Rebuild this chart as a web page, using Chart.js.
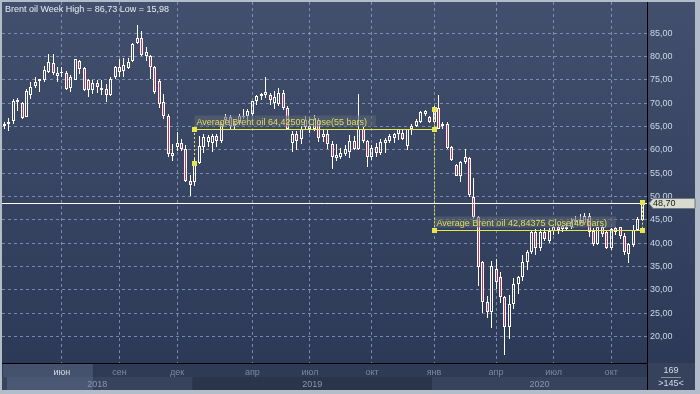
<!DOCTYPE html>
<html>
<head>
<meta charset="utf-8">
<title>Brent oil Week</title>
<script src="https://cdn.jsdelivr.net/npm/chart.js@4.4.1/dist/chart.umd.min.js"></script>
<style>
  html, body { margin: 0; padding: 0; background: #b3bcc9; }
  canvas { display: block; }
</style>
</head>
<body>
<script>
// Brent oil, weekly bars (oldest first)
const opens = [
  65.2, 65.5, 66.3, 70.2, 70.0, 67.1, 71.8, 73.8, 74.8, 74.9,
  76.8, 78.6, 75.8, 76.4, 76.4, 73.2, 75.1, 79.0, 77.5, 74.9,
  72.9, 74.3, 72.9, 73.1, 71.8, 75.6, 77.7, 77.0, 77.5, 79.1,
  82.9, 84.1, 80.1, 80.1, 77.7, 74.8, 70.3, 67.2, 58.8, 60.6,
  61.4, 60.3, 53.4, 53.2, 57.2, 60.6, 61.8, 61.5, 63.1, 62.0,
  66.4, 67.1, 65.1, 65.7, 67.2, 67.3, 67.7, 70.6, 71.6, 71.8,
  71.8, 70.1, 69.9, 72.3, 69.1, 61.6, 63.4, 62.3, 64.9, 65.2,
  64.5, 66.5, 62.7, 63.4, 61.3, 58.2, 58.6, 59.2, 59.6, 62.0,
  60.3, 64.6, 62.0, 58.5, 60.7, 59.4, 61.6, 62.0, 62.5, 63.5,
  63.6, 60.8, 64.5, 65.2, 66.0, 67.7, 67.0, 66.0, 68.9, 65.2,
  65.6, 60.7, 56.8, 54.5, 57.5, 58.2, 49.9, 45.6, 35.9, 27.5,
  25.2, 34.6, 32.7, 28.4, 22.0, 27.0, 31.3, 32.7, 35.9, 38.2,
  42.4, 39.1, 42.4, 40.6, 42.7, 43.4, 43.1, 43.1, 43.6, 44.5,
  45.0, 44.4, 45.9, 42.7, 39.9, 43.4, 42.4, 39.1, 43.2, 43.4,
  41.6, 37.8, 39.6, 42.9, 45.0
];
const highs = [
  65.9, 66.8, 70.9, 71.1, 70.2, 73.1, 74.5, 75.6, 75.3, 78.1,
  80.6, 80.6, 77.7, 77.7, 77.0, 76.1, 79.6, 79.3, 77.7, 75.3,
  74.9, 75.1, 74.9, 74.1, 75.6, 78.1, 79.5, 79.8, 79.8, 82.9,
  86.73, 85.4, 82.0, 80.3, 78.1, 75.2, 72.0, 67.7, 61.3, 63.8,
  62.3, 61.1, 54.6, 58.2, 63.1, 63.4, 63.2, 63.4, 63.4, 65.9,
  67.7, 67.6, 66.3, 67.7, 68.7, 68.8, 70.6, 71.8, 72.3, 75.6,
  72.3, 72.6, 73.3, 72.8, 69.4, 64.0, 64.0, 65.2, 67.2, 67.0,
  67.6, 66.9, 64.2, 64.5, 62.0, 61.3, 60.5, 61.0, 63.2, 63.0,
  72.0, 65.0, 62.2, 61.0, 61.4, 62.3, 62.5, 63.5, 63.7, 64.6,
  64.2, 64.6, 65.6, 66.6, 68.4, 68.5, 67.3, 69.5, 71.8, 65.9,
  66.1, 60.9, 57.0, 57.7, 60.2, 58.4, 53.9, 45.9, 36.3, 28.8,
  36.3, 36.6, 33.8, 28.8, 28.9, 32.5, 33.1, 37.4, 38.5, 42.7,
  43.1, 43.0, 43.3, 43.3, 44.0, 44.1, 44.0, 44.3, 45.5, 45.9,
  46.2, 46.4, 46.6, 43.2, 43.6, 43.7, 42.6, 43.2, 43.6, 43.5,
  42.3, 40.0, 44.0, 45.6, 48.9
];
const lows = [
  64.4, 64.1, 65.6, 68.4, 66.6, 67.0, 70.9, 73.3, 72.4, 74.5,
  76.4, 76.1, 74.5, 75.6, 72.9, 72.5, 74.9, 76.3, 72.7, 71.3,
  72.0, 72.2, 71.8, 70.3, 71.5, 75.3, 75.6, 75.6, 77.3, 78.9,
  82.7, 80.1, 79.1, 75.2, 72.0, 69.1, 66.6, 58.6, 57.7, 59.8,
  59.8, 53.1, 50.2, 52.3, 57.0, 59.3, 60.6, 59.5, 60.6, 61.6,
  65.6, 64.5, 64.6, 65.6, 66.6, 66.5, 67.3, 69.6, 70.7, 71.2,
  69.6, 68.7, 69.5, 68.6, 64.2, 59.5, 59.9, 61.3, 64.3, 63.6,
  64.0, 61.7, 61.8, 60.2, 55.9, 57.7, 58.0, 58.7, 58.2, 60.0,
  60.0, 61.5, 56.3, 57.9, 58.6, 58.9, 59.3, 61.4, 61.5, 62.2,
  62.1, 60.1, 63.2, 64.9, 65.8, 67.2, 65.8, 65.7, 64.5, 64.5,
  60.2, 57.7, 54.4, 53.2, 57.0, 49.9, 45.2, 30.9, 25.1, 24.1,
  21.8, 30.2, 27.3, 15.98, 19.4, 25.9, 29.1, 32.0, 34.2, 37.7,
  37.4, 38.4, 40.4, 40.0, 41.8, 42.0, 42.5, 42.6, 43.0, 44.0,
  44.2, 44.0, 41.3, 39.5, 39.6, 41.4, 38.8, 38.6, 41.7, 41.0,
  37.4, 35.8, 39.2, 42.6, 44.8
];
const closes = [
  65.6, 66.1, 70.6, 70.7, 66.8, 72.7, 73.6, 74.6, 75.2, 77.1,
  78.9, 76.5, 76.6, 76.8, 73.1, 75.6, 79.5, 77.3, 72.9, 72.9,
  74.3, 73.4, 73.3, 71.8, 75.3, 77.7, 76.8, 78.2, 78.9, 82.7,
  83.9, 80.3, 81.1, 77.7, 72.5, 69.8, 67.2, 59.1, 59.3, 61.4,
  60.3, 53.4, 52.6, 57.2, 60.9, 62.7, 62.7, 63.1, 62.0, 65.6,
  67.1, 65.1, 65.7, 67.2, 67.0, 68.4, 70.4, 71.6, 72.1, 72.4,
  70.8, 71.3, 72.3, 69.1, 64.5, 63.4, 62.0, 64.6, 66.5, 64.5,
  66.7, 62.6, 63.4, 61.3, 58.4, 58.9, 59.4, 60.2, 62.0, 60.2,
  64.6, 62.0, 58.5, 60.5, 59.4, 61.8, 62.2, 62.9, 63.5, 64.4,
  62.4, 64.4, 65.2, 66.2, 68.2, 68.3, 66.0, 68.7, 64.6, 65.6,
  60.4, 57.9, 54.5, 57.5, 58.4, 50.4, 45.6, 34.9, 27.5, 25.2,
  35.2, 31.8, 28.4, 22.0, 27.0, 31.3, 32.7, 35.9, 38.2, 42.4,
  38.9, 42.4, 40.9, 42.7, 43.4, 42.9, 43.8, 43.6, 44.5, 45.0,
  44.4, 45.8, 42.4, 39.9, 43.4, 42.0, 39.1, 43.1, 42.4, 41.6,
  38.1, 39.8, 42.8, 45.3, 48.7
];

// axis ticks (bar index for the time axis)
const monthTicks = [13, 26, 39, 56, 69, 83, 97, 111, 124, 137];
const monthLabels = ['июн', 'сен', 'дек', 'апр', 'июл', 'окт', 'янв', 'апр', 'июл', 'окт'];
const yearTicks = [21, 69.5, 120.8];
const yearLabels = ['2018', '2019', '2020'];
const yearStarts = [42.5, 96.5];
const priceTicks = [20, 25, 30, 35, 40, 45, 50, 55, 60, 65, 70, 75, 80, 85];

// "Average" tools drawn on the chart
const avgFrom = [43, 97];
const avgTo = [97, 144];
const avgValues = [64.42509, 42.84375];
const avgBars = [55, 48];

const titleText = 'Brent oil Week High = 86,73 Low = 15,98';
const barsTotal = '169';
const barsShown = '>145<';

const FONT = '"Liberation Sans", Arial, sans-serif';
const YELLOW = '#e6e64e';
const RED = '#c8325a';
const GRID = 'rgba(150, 166, 200, 0.72)';

function range(length) {
  return Array.apply(null, Array(length)).map(function(value, index) {
    return index;
  });
}

function fmt(v, digits) {
  return v.toFixed(digits).replace('.', ',');
}

const bars = range(closes.length);
const bodies = bars.map(i => ({ x: i, y: [Math.min(opens[i], closes[i]), Math.max(opens[i], closes[i])] }));
const upperWicks = bars.map(i => ({ x: i, y: [Math.max(opens[i], closes[i]), highs[i]] }));
const lowerWicks = bars.map(i => ({ x: i, y: [lows[i], Math.min(opens[i], closes[i])] }));

// keep the thin candle bars on whole pixels so they stay crisp
const snap = {
  id: 'snap',
  afterDatasetsUpdate: (chart) => {
    chart.getSortedVisibleDatasetMetas().forEach(function(meta) {
      meta.data.forEach(function(el) {
        el.x = Math.round(el.x - 0.5) + 0.5;
        el.y = Math.round(el.y);
        el.base = Math.round(el.base);
      });
    });
  }
};

const panels = {
  id: 'panels',
  beforeDraw: (chart) => {
    const ctx = chart.ctx;
    const area = chart.chartArea;
    const xs = chart.scales.x;
    const W = chart.width;
    ctx.save();
    ctx.fillStyle = '#b3bcc9';
    ctx.fillRect(0, 0, W, chart.height);

    // plot + price scale background
    const grad = ctx.createLinearGradient(0, area.top, 0, area.bottom);
    grad.addColorStop(0, '#43506d');
    grad.addColorStop(1, '#2c3957');
    ctx.fillStyle = grad;
    ctx.fillRect(2, 2, W - 7, area.bottom - 2);

    // time scale rows
    const rowTop = area.bottom;
    const rowMid = rowTop + 14;
    const rowBottom = rowMid + 13;
    ctx.fillStyle = '#2f3b55';
    ctx.fillRect(2, rowTop, W - 7, rowBottom - rowTop);
    const thumb = xs.getPixelForValue(20);
    ctx.fillStyle = '#45526e';
    ctx.fillRect(3, rowTop, thumb - 3, 14);

    const b1 = xs.getPixelForValue(yearStarts[0]);
    const b2 = xs.getPixelForValue(yearStarts[1]);
    ctx.fillStyle = '#37435d';
    ctx.fillRect(2, rowMid, b1 - 2, 13);
    ctx.fillRect(b2, rowMid, area.right - b2, 13);
    ctx.fillStyle = '#2a344b';
    ctx.fillRect(b1, rowMid, b2 - b1, 13);
    ctx.fillStyle = '#4b5874';
    ctx.fillRect(7, rowMid, thumb - 7, 13);

    // corner box
    ctx.fillStyle = '#36425c';
    ctx.fillRect(area.right, rowTop, W - 5 - area.right, rowBottom - rowTop);
    ctx.fillStyle = '#000';
    ctx.fillRect(area.right, rowTop, 1, rowBottom - rowTop);
    ctx.restore();
  }
};

const overlay = {
  id: 'overlay',
  afterDatasetsDraw: (chart) => {
    const ctx = chart.ctx;
    const area = chart.chartArea;
    const xs = chart.scales.x;
    const ys = chart.scales.y;
    ctx.save();

    // last close line
    const last = closes[closes.length - 1];
    const py = Math.round(ys.getPixelForValue(last)) + 0.5;
    ctx.strokeStyle = '#ffffff';
    ctx.lineWidth = 1;
    ctx.beginPath();
    ctx.moveTo(area.left, py);
    ctx.lineTo(area.right, py);
    ctx.stroke();

    ctx.font = '9px ' + FONT;
    for (let k = 0; k < avgValues.length; k++) {
      const x1 = Math.round(xs.getPixelForValue(avgFrom[k]) - 0.5) + 0.5;
      const x2 = Math.round(xs.getPixelForValue(avgTo[k]) - 0.5) + 0.5;
      const y = Math.round(ys.getPixelForValue(avgValues[k])) + 0.5;
      const y1 = ys.getPixelForValue(closes[avgFrom[k]]);
      const y2 = ys.getPixelForValue(closes[avgTo[k]]);
      const text = 'Average Brent oil ' + fmt(avgValues[k], 5) + ' Close(' + avgBars[k] + ' bars)';

      const w = ctx.measureText(text).width;
      ctx.fillStyle = 'rgba(92, 100, 114, 0.6)';
      ctx.fillRect(x1, y - 14, w + 11, 11);
      ctx.fillStyle = '#dede5c';
      ctx.textBaseline = 'alphabetic';
      ctx.textAlign = 'left';
      ctx.fillText(text, x1 + 2, y - 5);

      ctx.strokeStyle = YELLOW;
      ctx.setLineDash([]);
      ctx.beginPath();
      ctx.moveTo(x1, y);
      ctx.lineTo(x2, y);
      ctx.stroke();
      ctx.setLineDash([2, 2]);
      ctx.beginPath();
      ctx.moveTo(x1, y1);
      ctx.lineTo(x1, y);
      ctx.moveTo(x2, y2);
      ctx.lineTo(x2, y);
      ctx.stroke();
      ctx.setLineDash([]);

      ctx.fillStyle = YELLOW;
      [[x1, y1], [x1, y], [x2, y], [x2, y2]].forEach(function(p) {
        ctx.fillRect(Math.round(p[0] - 2.5), Math.round(p[1] - 2.5), 5, 5);
      });
    }

    // title
    ctx.fillStyle = '#e8ecf2';
    ctx.font = '9px ' + FONT;
    ctx.textBaseline = 'middle';
    ctx.fillText(titleText, 5, 10);
    ctx.restore();
  },
  afterDraw: (chart) => {
    const ctx = chart.ctx;
    const area = chart.chartArea;
    const ys = chart.scales.y;
    const last = closes[closes.length - 1];
    const y = Math.round(ys.getPixelForValue(last)) + 0.5;
    ctx.save();
    // price tag
    ctx.fillStyle = '#d8dbcd';
    ctx.strokeStyle = '#707880';
    ctx.beginPath();
    ctx.moveTo(area.right + 2, y);
    ctx.lineTo(area.right + 6, y - 5);
    ctx.lineTo(chart.width - 5, y - 5);
    ctx.lineTo(chart.width - 5, y + 5);
    ctx.lineTo(area.right + 6, y + 5);
    ctx.closePath();
    ctx.fill();
    ctx.stroke();
    ctx.fillStyle = '#15181c';
    ctx.font = '9px ' + FONT;
    ctx.textBaseline = 'middle';
    ctx.fillText(fmt(last, 2), area.right + 6, y + 0.5);

    // bars counter in the corner
    const cx = (area.right + chart.width - 5) / 2;
    ctx.textAlign = 'center';
    ctx.fillStyle = '#d4dbe6';
    ctx.fillText(barsTotal, cx, area.bottom + 8);
    ctx.fillText(barsShown, cx, area.bottom + 21);
    ctx.fillStyle = '#8592a8';
    ctx.fillRect(cx - 10, area.bottom + 14, 20, 1);
    ctx.restore();
  }
};

// Canvas
const canvas = document.createElement('canvas');
canvas.width = 700;
canvas.height = 394;
document.body.appendChild(canvas);

Chart.defaults.font.family = FONT;
Chart.defaults.font.size = 9;

const chart = new Chart(canvas.getContext('2d'), {
  type: 'bar',
  plugins: [snap, panels, overlay],
  data: {
    datasets: [
      {
        label: 'body',
        data: bodies,
        backgroundColor: (c) => closes[c.dataIndex] < opens[c.dataIndex] ? RED : 'rgba(0,0,0,0)',
        borderColor: '#ffffff',
        borderWidth: 1,
        borderSkipped: false,
        inflateAmount: 0,
        barThickness: 3,
        grouped: false
      },
      {
        label: 'high',
        data: upperWicks,
        backgroundColor: '#ffffff',
        borderWidth: 0,
        inflateAmount: 0,
        barThickness: 1,
        grouped: false
      },
      {
        label: 'low',
        data: lowerWicks,
        backgroundColor: '#ffffff',
        borderWidth: 0,
        inflateAmount: 0,
        barThickness: 1,
        grouped: false
      }
    ]
  },
  options: {
    responsive: false,
    animation: false,
    devicePixelRatio: 1,
    layout: {
      autoPadding: false,
      padding: { left: 2, top: 2, right: 5, bottom: 4 }
    },
    plugins: {
      legend: { display: false },
      tooltip: { enabled: false },
      title: { display: false }
    },
    scales: {
      x: {
        type: 'linear',
        position: 'bottom',
        min: -0.52,
        max: 145.08,
        offset: false,
        afterBuildTicks: (s) => { s.ticks = monthTicks.map(v => ({ value: v })); },
        afterFit: (s) => { s.height = 14; s.paddingLeft = 0; s.paddingRight = 0; },
        ticks: {
          autoSkip: false,
          maxRotation: 0,
          padding: 4,
          color: (c) => c.index === 0 ? '#d4dbe6' : '#7b879d',
          callback: (v, i) => monthLabels[i]
        },
        grid: { color: GRID, drawTicks: false, offset: false },
        border: { color: '#000000', width: 1, dash: [3, 3] }
      },
      years: {
        type: 'linear',
        axis: 'x',
        position: 'bottom',
        min: -0.52,
        max: 145.08,
        offset: false,
        afterBuildTicks: (s) => { s.ticks = yearTicks.map(v => ({ value: v })); },
        afterFit: (s) => { s.height = 13; s.paddingLeft = 0; s.paddingRight = 0; },
        ticks: {
          autoSkip: false,
          maxRotation: 0,
          padding: 2,
          color: '#8a95aa',
          callback: (v, i) => yearLabels[i]
        },
        grid: { display: false, drawTicks: false },
        border: { display: false }
      },
      y: {
        type: 'linear',
        position: 'right',
        min: 14.35,
        max: 91.71,
        afterBuildTicks: (s) => { s.ticks = priceTicks.map(v => ({ value: v })); },
        afterFit: (s) => { s.width = 48; s.paddingTop = 0; s.paddingBottom = 0; },
        ticks: {
          padding: 3,
          color: '#cdd7e8',
          callback: (v) => fmt(v, 2)
        },
        grid: { color: GRID, drawTicks: false },
        border: { color: '#000000', width: 1, dash: [3, 3] }
      }
    }
  }
});
</script>
</body>
</html>
